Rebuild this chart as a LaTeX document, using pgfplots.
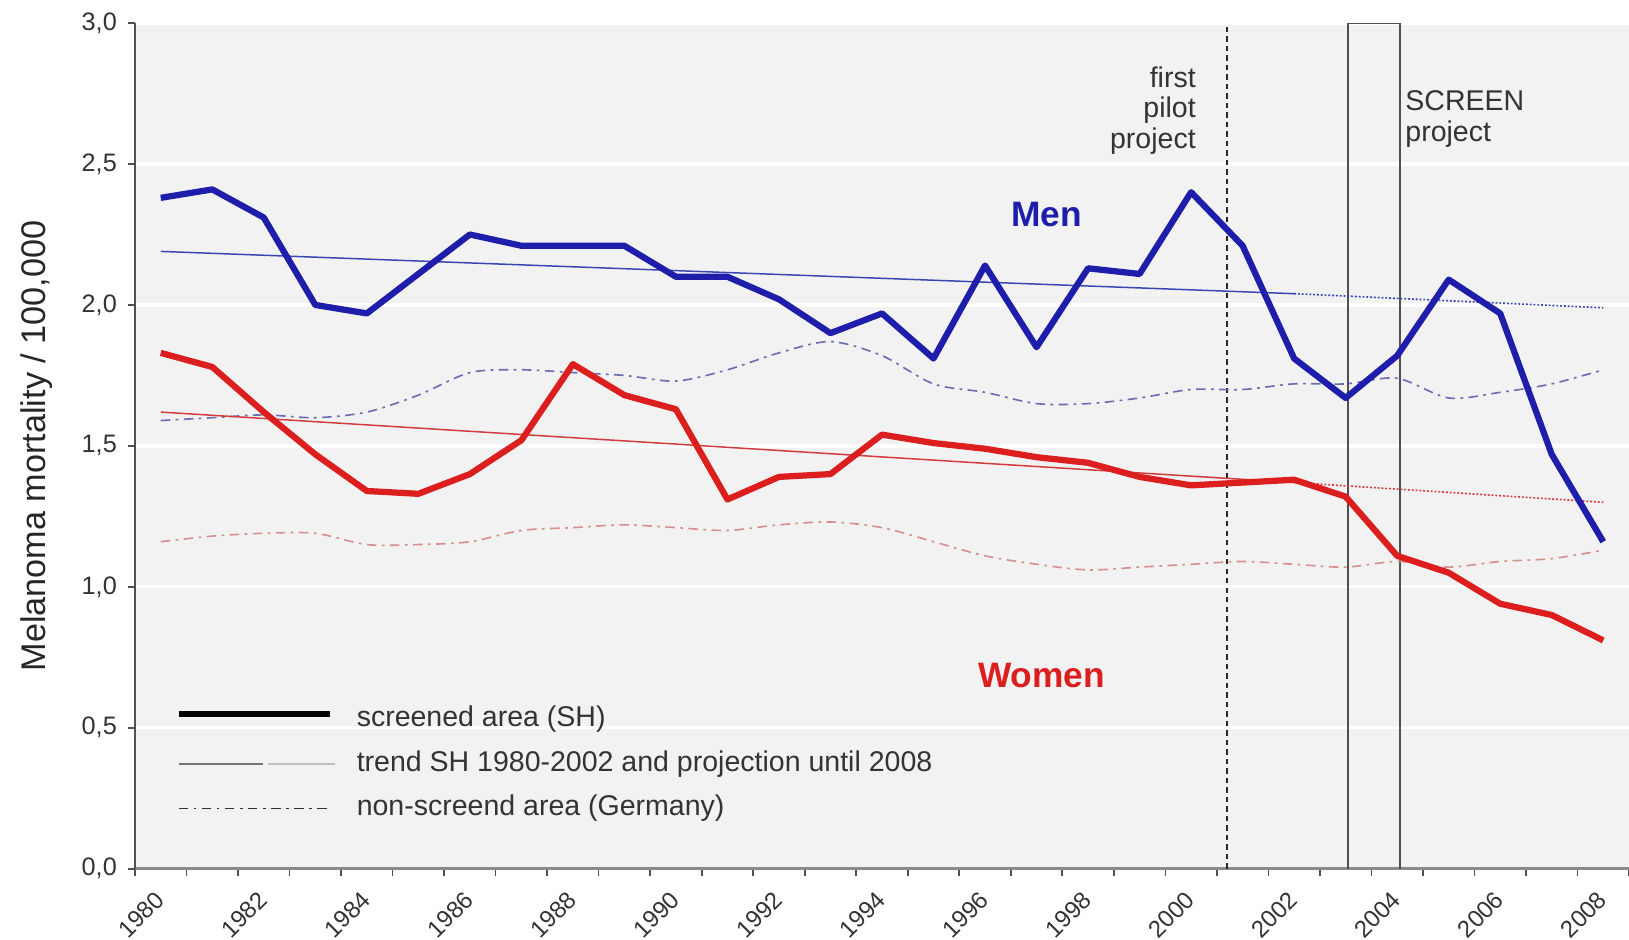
\documentclass[border=0pt]{standalone}
\usepackage{fontspec}
\setmainfont{Liberation Sans}
\usepackage{pgfplots}
\pgfplotsset{compat=1.18}

\definecolor{bgray}{HTML}{F2F2F2}
\definecolor{menblue}{HTML}{1E1EAA}
\definecolor{womenred}{HTML}{DC1E1E}
\definecolor{trendblue}{HTML}{3A46B4}
\definecolor{trendred}{HTML}{D23C3C}
\definecolor{germblue}{HTML}{6C6CB4}
\definecolor{germred}{HTML}{D68E8E}
\definecolor{txtgray}{HTML}{333333}
\definecolor{axdark}{HTML}{505050}
\definecolor{axgray}{HTML}{8A8A8A}

% screened area (SH), Schleswig-Holstein
\pgfplotstableread{
year men women
1980 2.38 1.83
1981 2.41 1.78
1982 2.31 1.62
1983 2.00 1.47
1984 1.97 1.34
1985 2.11 1.33
1986 2.25 1.40
1987 2.21 1.52
1988 2.21 1.79
1989 2.21 1.68
1990 2.10 1.63
1991 2.10 1.31
1992 2.02 1.39
1993 1.90 1.40
1994 1.97 1.54
1995 1.81 1.51
1996 2.14 1.49
1997 1.85 1.46
1998 2.13 1.44
1999 2.11 1.39
2000 2.40 1.36
2001 2.21 1.37
2002 1.81 1.38
2003 1.67 1.32
2004 1.82 1.11
2005 2.09 1.05
2006 1.97 0.94
2007 1.47 0.90
2008 1.16 0.81
}\screened

% non-screened area (Germany)
\pgfplotstableread{
year men women
1980 1.59 1.16
1981 1.60 1.18
1982 1.61 1.19
1983 1.60 1.19
1984 1.62 1.15
1985 1.68 1.15
1986 1.76 1.16
1987 1.77 1.20
1988 1.76 1.21
1989 1.75 1.22
1990 1.73 1.21
1991 1.77 1.20
1992 1.83 1.22
1993 1.87 1.23
1994 1.82 1.21
1995 1.72 1.16
1996 1.69 1.11
1997 1.65 1.08
1998 1.65 1.06
1999 1.67 1.07
2000 1.70 1.08
2001 1.70 1.09
2002 1.72 1.08
2003 1.72 1.07
2004 1.74 1.09
2005 1.67 1.07
2006 1.69 1.09
2007 1.72 1.10
2008 1.77 1.13
}\germany

\tikzset{dashdot/.style={dash pattern=on 3.5pt off 2pt on 1pt off 2pt}}

\begin{document}
\begin{tikzpicture}
\begin{axis}[
    name=main,
    scale only axis,
    width=550pt, height=311.3pt,
    xmin=1979.5, xmax=2008.5,
    ymin=0, ymax=3,
    axis background/.style={fill=bgray},
    axis x line*=bottom,
    axis y line*=left,
    x axis line style={-, draw=axgray, line width=1.1pt},
    y axis line style={-, draw=axdark, line width=0.6pt},
    xtick={1980,1982,...,2008},
    minor xtick={1979.5,1980.5,...,2008.5},
    ytick={0,0.5,...,3},
    tick align=outside,
    major tick length=2.5pt,
    minor tick length=2.8pt,
    tick style={axdark, line width=0.6pt},
    major x tick style={draw=none},
    ymajorgrids,
    major grid style={white, line width=1.2pt},
    /pgf/number format/.cd, use comma, 1000 sep={}, assume math mode=true,
    /pgfplots/.cd,
    yticklabel style={/pgf/number format/.cd, fixed, fixed zerofill, precision=1, /tikz/.cd,
        font=\fontsize{9.3}{11}\selectfont, text=txtgray, inner sep=0pt, xshift=-4pt},
    xticklabel style={xshift=-2.5pt, yshift=-5pt, rotate=45, anchor=north east, inner sep=0pt,
        font=\fontsize{8.8}{10}\selectfont, text=txtgray},
    ylabel={Melanoma mortality / 100,000},
    ylabel style={at={(axis description cs:-0.066,0.5)}, anchor=center,
        font=\fontsize{12.6}{14}\selectfont, text=black!85},
    legend style={draw=none, fill=none, at={(axis description cs:0.0268,0.055)},
        anchor=south west, inner sep=0pt, row sep=6.7pt,
        font=\fontsize{10.5}{12}\selectfont, text=txtgray,
        nodes={text height=7.5pt, text depth=2.2pt, inner sep=0pt},
        /tikz/every odd column/.append style={column sep=7.6pt}},
    legend cell align=left,
    legend image code/.code={\draw[#1] (0pt,0pt) -- (55.6pt,0pt);},
]

% project markers
\addplot[forget plot, black!85, line width=0.6pt, dash pattern=on 2pt off 1.5pt]
    coordinates {(2000.7,0) (2000.7,3)};
\addplot[forget plot, axdark, line width=0.6pt]
    coordinates {(2003.05,0) (2003.05,3) (2004.05,3) (2004.05,0)};

% non-screened area
\addplot[forget plot, germblue, line width=0.6pt, dashdot, smooth] table[x=year, y=men] {\germany};
\addplot[forget plot, germred, line width=0.6pt, dashdot, smooth] table[x=year, y=women] {\germany};

% trends and projections
\addplot[forget plot, trendblue, line width=0.55pt] coordinates {(1980,2.19) (2002,2.04)};
\addplot[forget plot, trendblue, line width=0.6pt, dash pattern=on 0.7pt off 0.7pt] coordinates {(2002,2.04) (2008,1.99)};
\addplot[forget plot, trendred, line width=0.55pt] coordinates {(1980,1.62) (2002,1.37)};
\addplot[forget plot, trendred, line width=0.6pt, dash pattern=on 0.7pt off 0.7pt] coordinates {(2002,1.37) (2008,1.30)};

% screened area
\addplot[forget plot, menblue, line width=2.3pt, line join=round] table[x=year, y=men] {\screened};
\addplot[forget plot, womenred, line width=2.3pt, line join=round] table[x=year, y=women] {\screened};

% legend
\addlegendimage{black, line width=2.3pt, yshift=2pt}
\addlegendentry{screened area (SH)}
\addlegendimage{legend image code/.code={
    \draw[line width=0.9pt, black!55] (0pt,0pt) -- (31pt,0pt);
    \draw[line width=0.9pt, black!25] (33pt,0pt) -- (57.5pt,0pt);}}
\addlegendentry{trend SH 1980-2002 and projection until 2008}
\addlegendimage{black!80, line width=0.6pt, dashdot}
\addlegendentry{non-screend area (Germany)}

% annotations
\node[anchor=east, align=right, inner sep=0pt, text=txtgray,
    font=\fontsize{10.5}{11.3}\selectfont] at (axis cs:2000.1,2.69) {first\\pilot\\project};
\node[anchor=west, align=left, inner sep=0pt, text=txtgray,
    font=\fontsize{10.5}{11.3}\selectfont] at (axis cs:2004.15,2.66) {SCREEN\\project};
\node[text=menblue, font=\fontsize{13}{15}\selectfont\bfseries] at (axis cs:1997.2,2.32) {Men};
\node[text=womenred, font=\fontsize{13}{15}\selectfont\bfseries] at (axis cs:1997.1,0.686) {Women};
\end{axis}
\pgfresetboundingbox
\path[use as bounding box] ([xshift=-49.7pt, yshift=-26.1pt]main.south west)
    rectangle ([yshift=8.5pt]main.north east);
\end{tikzpicture}
\end{document}
